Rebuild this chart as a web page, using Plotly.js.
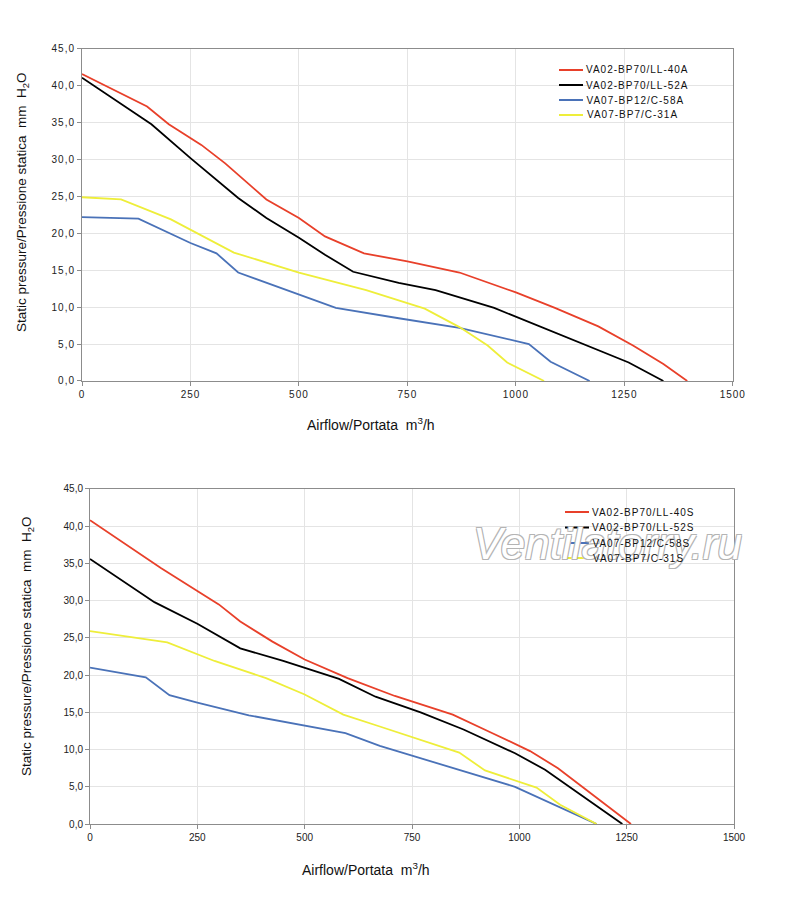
<!DOCTYPE html>
<html>
<head>
<meta charset="utf-8">
<script src="https://cdn.plot.ly/plotly-3.0.1.min.js"></script>
<style>
  body { margin: 0; background: #fff; }
  #chart { width: 800px; height: 900px; }
  .xtick text, .ytick text { letter-spacing: 1px; }
</style>
</head>
<body>
<div id="chart"></div>
<script>
// top chart (A models)
let namesA = ['VA02-BP70/LL-40A', 'VA02-BP70/LL-52A', 'VA07-BP12/C-58A', 'VA07-BP7/C-31A'];
let x40A = [0, 150, 200, 275, 330, 425, 500, 560, 650, 750, 870, 1000, 1090, 1190, 1270, 1340, 1395];
let y40A = [41.6, 37.2, 34.8, 32, 29.5, 24.6, 22.1, 19.6, 17.3, 16.2, 14.7, 12, 9.9, 7.4, 4.8, 2.3, 0];
let x52A = [0, 160, 250, 360, 425, 500, 560, 625, 730, 815, 950, 1025, 1150, 1260, 1340];
let y52A = [41.1, 34.8, 30.2, 24.8, 22.1, 19.4, 17.1, 14.8, 13.3, 12.3, 9.9, 8.1, 5.2, 2.5, 0];
let x58A = [0, 130, 250, 310, 360, 500, 585, 730, 870, 1030, 1080, 1170];
let y58A = [22.2, 22.0, 18.7, 17.3, 14.7, 11.7, 9.9, 8.5, 7.2, 5.0, 2.6, 0];
let x31A = [0, 90, 205, 270, 350, 500, 655, 790, 870, 935, 980, 1065];
let y31A = [24.9, 24.6, 21.9, 19.9, 17.4, 14.7, 12.3, 9.8, 7.3, 4.8, 2.5, 0];

// bottom chart (S models)
let namesS = ['VA02-BP70/LL-40S', 'VA02-BP70/LL-52S', 'VA07-BP12/C-58S', 'VA07-BP7/C-31S'];
let x40S = [0, 165, 250, 300, 350, 425, 500, 600, 710, 845, 930, 1025, 1090, 1175, 1260];
let y40S = [40.8, 34.4, 31.3, 29.5, 27.2, 24.5, 22.1, 19.6, 17.2, 14.7, 12.4, 9.8, 7.5, 3.7, 0];
let x52S = [0, 150, 250, 350, 450, 500, 580, 665, 770, 870, 990, 1060, 1240];
let y52S = [35.6, 29.8, 26.9, 23.6, 21.9, 21, 19.5, 17.1, 15.0, 12.7, 9.5, 7.3, 0];
let x58S = [0, 130, 185, 250, 370, 500, 595, 675, 855, 990, 1180];
let y58S = [21, 19.7, 17.3, 16.3, 14.6, 13.2, 12.2, 10.5, 7.3, 5.0, 0];
let x31S = [0, 180, 290, 410, 500, 590, 675, 860, 920, 1040, 1095, 1180];
let y31S = [25.9, 24.4, 21.9, 19.6, 17.4, 14.7, 13.1, 9.6, 7.2, 4.9, 2.6, 0];

let xTicks = [0, 250, 500, 750, 1000, 1250, 1500];
let colors = ['#e8402a', '#000000', '#4a72b8', '#eeee3a'];

let font = 'Liberation Sans, Arial, sans-serif';

function trace(x, y, name, i, bottom) {
  return {
    x: x,
    y: y,
    name: name,
    type: 'scatter',
    mode: 'lines',
    line: { color: colors[i], width: 1.8 },
    xaxis: bottom ? 'x2' : 'x',
    yaxis: bottom ? 'y2' : 'y',
  };
}

let data = [
  trace(x40A, y40A, namesA[0], 0, false),
  trace(x52A, y52A, namesA[1], 1, false),
  trace(x58A, y58A, namesA[2], 2, false),
  trace(x31A, y31A, namesA[3], 3, false),
  trace(x40S, y40S, namesS[0], 0, true),
  trace(x52S, y52S, namesS[1], 1, true),
  trace(x58S, y58S, namesS[2], 2, true),
  trace(x31S, y31S, namesS[3], 3, true),
];

let xaxis = {
  range: [0, 1500],
  tickvals: xTicks,
  showgrid: true,
  gridcolor: '#e4e4e4',
  showline: true,
  linecolor: '#8c8c8c',
  mirror: true,
  ticks: 'outside',
  ticklen: 4,
  tickcolor: '#8c8c8c',
  zeroline: false,
  tickfont: { family: font, size: 10, color: '#222' },
};
let yaxis = {
  range: [0, 45],
  dtick: 5,
  tickformat: '.1f',
  showgrid: true,
  gridcolor: '#e4e4e4',
  showline: true,
  linecolor: '#8c8c8c',
  mirror: true,
  ticks: 'outside',
  ticklen: 4,
  tickcolor: '#8c8c8c',
  zeroline: false,
  tickfont: { family: font, size: 10, color: '#222' },
};

let yTitle = 'Static pressure/Pressione statica  mm  H<sub>2</sub>O';
let xTitle = 'Airflow/Portata  m<sup>3</sup>/h';

let shapes = [];
// watermark first, so the legend names are drawn over it
let annotations = [
  {
    text: 'Ventilatorry.ru',
    xref: 'paper', yref: 'paper',
    x: 607 / 800, y: 1 - 543 / 900,
    xanchor: 'center', yanchor: 'middle',
    showarrow: false,
    font: {
      family: font,
      size: 44,
      style: 'italic',
      color: '#ffffff',
      shadow: '1px 1px 0 #b4b4b4, -1px -1px 0 #b4b4b4, 1px -1px 0 #b4b4b4, -1px 1px 0 #b4b4b4',
    },
  },
];

// hand-made legends: line sample + name, rows in pixels from top
function addLegend(names, x0, rows) {
  names.forEach((n, i) => {
    let yy = 1 - rows[i] / 900;
    shapes.push({
      type: 'line',
      xref: 'paper', yref: 'paper',
      x0: x0 / 800, x1: (x0 + 24) / 800,
      y0: yy, y1: yy,
      line: { color: colors[i], width: 2 },
    });
    // +8px: the letter spacing added below widens the text on both sides
    annotations.push({
      text: n,
      xref: 'paper', yref: 'paper',
      x: (x0 + 33) / 800, y: yy,
      xanchor: 'left', yanchor: 'middle',
      showarrow: false,
      font: { family: font, size: 10, color: '#111' },
    });
  });
}
addLegend(namesA, 559, [70, 85, 100, 115]);
addLegend(namesS, 565, [512, 527.5, 543, 558]);

annotations.push(
  {
    text: xTitle,
    xref: 'paper', yref: 'paper',
    x: 371 / 800, y: 1 - 424 / 900,
    xanchor: 'center', yanchor: 'middle',
    showarrow: false,
    font: { family: font, size: 14, color: '#111' },
  },
  {
    text: xTitle,
    xref: 'paper', yref: 'paper',
    x: 366 / 800, y: 1 - 869 / 900,
    xanchor: 'center', yanchor: 'middle',
    showarrow: false,
    font: { family: font, size: 14, color: '#111' },
  },
  {
    text: yTitle,
    xref: 'paper', yref: 'paper',
    x: 22 / 800, y: 1 - 202 / 900,
    xanchor: 'center', yanchor: 'middle',
    textangle: -90,
    showarrow: false,
    font: { family: font, size: 13.5, color: '#111' },
  },
  {
    text: yTitle,
    xref: 'paper', yref: 'paper',
    x: 27 / 800, y: 1 - 646 / 900,
    xanchor: 'center', yanchor: 'middle',
    textangle: -90,
    showarrow: false,
    font: { family: font, size: 13.5, color: '#111' },
  }
);

Plotly.newPlot(
  'chart',
  data,
  {
    width: 800,
    height: 900,
    paper_bgcolor: '#ffffff',
    plot_bgcolor: '#ffffff',
    margin: { t: 0, r: 0, b: 0, l: 0 },
    separators: ',.',
    showlegend: false,
    xaxis: { ...xaxis, domain: [0.1025, 0.916], anchor: 'y' },
    yaxis: { ...yaxis, domain: [0.5767, 0.9456], anchor: 'x' },
    xaxis2: { ...xaxis, domain: [0.1125, 0.9175], anchor: 'y2' },
    yaxis2: { ...yaxis, domain: [0.0844, 0.4567], anchor: 'x2' },
    shapes: shapes,
    annotations: annotations,
  },
  { staticPlot: true }
).then(() => {
  // spread the legend names a little, like the original
  document.querySelectorAll('.annotation-text').forEach(t => {
    if (t.textContent.startsWith('VA0')) t.style.letterSpacing = '1px';
  });
});
</script>
</body>
</html>
